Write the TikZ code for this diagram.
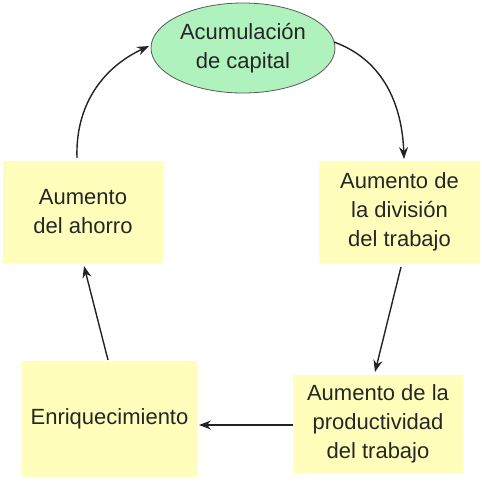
\documentclass[tikz,border=0pt]{standalone}
\usepackage{fontspec}
\setmainfont{Liberation Sans}
\usetikzlibrary{shapes.geometric,arrows.meta}
\definecolor{boxyellow}{RGB}{255,255,187}
\definecolor{ellgreen}{RGB}{176,242,190}
\definecolor{linegray}{RGB}{35,35,35}
\begin{document}
\begin{tikzpicture}[x=1pt,y=-1pt,
  every node/.style={font=\fontsize{22}{29}\selectfont, align=center, text=black!85, inner sep=0pt},
  ybox/.style={rectangle, fill=boxyellow},
  ell/.style={ellipse, fill=ellgreen, draw=black!65, line width=0.8pt},
  conn/.style={draw=linegray, line width=1.4pt, -{Stealth[length=12pt,width=9pt,inset=4pt]}}]
\useasboundingbox (0,0) rectangle (482,480);
\node[ell, minimum width=184pt, minimum height=90pt] (cap) at (243,48) {Acumulación\\de capital};
\node[ybox, minimum width=160pt, minimum height=102pt] (ahorro) at (83,212) {Aumento\\del ahorro};
\node[ybox, minimum width=161pt, minimum height=102pt] (div) at (399.5,212) {Aumento de\\la división\\del trabajo};
\node[ybox, minimum width=175pt, minimum height=116pt] (enr) at (109.5,419) {Enriquecimiento};
\node[ybox, minimum width=170pt, minimum height=98pt] (prod) at (378,424) {Aumento de la\\productividad\\del trabajo};
\coordinate (a1) at (77,158);
\coordinate (a2) at (149,46);
\coordinate (b1) at (334,42);
\coordinate (b2) at (404,159);
\coordinate (c1) at (401,267);
\coordinate (c2) at (375,372);
\coordinate (d1) at (293,425);
\coordinate (d2) at (199,425);
\coordinate (e1) at (108,360);
\coordinate (e2) at (84,266);
\draw[conn] (a1) to[out=92,in=205] (a2);
\draw[conn] (b1) to[out=-20,in=92] (b2);
\draw[conn] (c1) -- (c2);
\draw[conn] (d1) -- (d2);
\draw[conn] (e1) -- (e2);
\end{tikzpicture}
\end{document}
